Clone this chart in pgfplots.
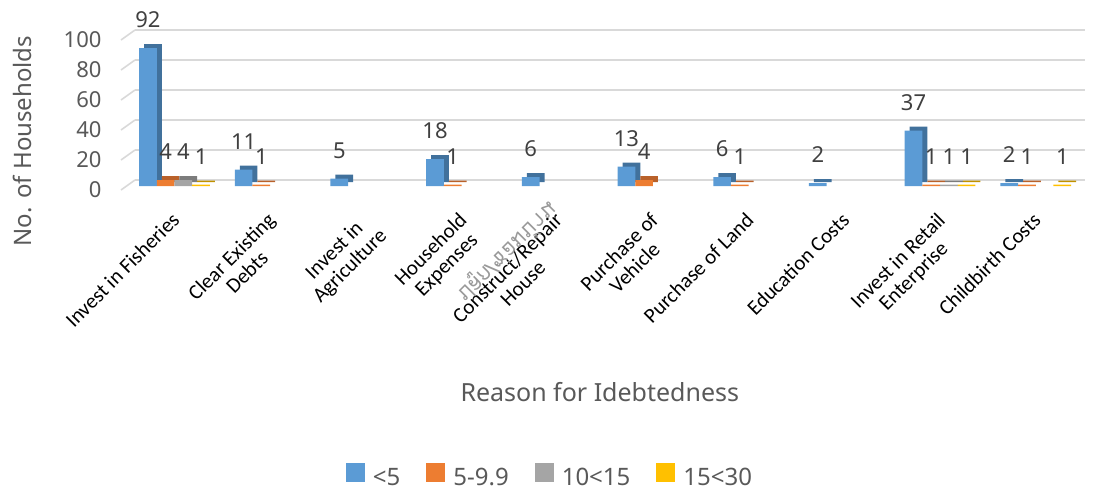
\documentclass[border=0pt]{standalone}
\usepackage{pgfplots}
\usepackage{pgfplotstable}
\pgfplotsset{compat=1.18}
\usepackage{fontspec}
\setmainfont{Noto Sans}
\newfontfamily\catfont{Carlito}
\newfontfamily\thaifont[Script=Thai]{Loma}
\definecolor{cA}{HTML}{5B9BD5}
\definecolor{cAd}{HTML}{41719C}
\definecolor{cB}{HTML}{ED7D31}
\definecolor{cBd}{HTML}{B9612A}
\definecolor{cC}{HTML}{A5A5A5}
\definecolor{cCd}{HTML}{7C7C7C}
\definecolor{cD}{HTML}{FFC000}
\definecolor{cDd}{HTML}{C09100}
\definecolor{gridcol}{HTML}{D9D9D9}
\definecolor{txt}{HTML}{595959}
\definecolor{lab}{HTML}{404040}

% <5
\pgfplotstableread{
x y
0 92
1 11
2 5
3 18
4 6
5 13
6 6
7 2
8 37
9 2
}\seriesA
% 5-9.9
\pgfplotstableread{
x y
0 4
1 1
3 1
5 4
6 1
8 1
9 1
}\seriesB
% 10<15
\pgfplotstableread{
x y
0 4
8 1
}\seriesC
% 15<30
\pgfplotstableread{
x y
0 1
8 1
9 1
}\seriesD

\begin{document}
\begin{tikzpicture}
\begin{axis}[
  scale only axis,
  width=950pt, height=150pt,
  xmin=-0.559, xmax=9.368,
  ymin=0, ymax=100,
  ytick={0,20,...,100},
  xtick={0,...,9},
  xticklabels={{Invest in Fisheries},{Clear Existing\\Debts},{Invest in\\Agriculture},{Household\\Expenses},{Construct/Repair\\House},{Purchase of\\Vehicle},{Purchase of Land},{Education Costs},{Invest in Retail\\Enterprise},{Childbirth Costs}},
  xticklabel style={xshift=-4pt, yshift=-25pt, rotate=45, anchor=north east, inner sep=0pt, align=center, font=\catfont\fontsize{21}{22}\selectfont, text=black},
  yticklabel style={font=\fontsize{22}{24}\selectfont, text=txt, xshift=-16pt, yshift=-4pt},
  /pgf/number format/assume math mode=true,
  axis line style={draw=none},
  major tick length=0pt,
  ymajorgrids,
  major grid style={draw=gridcol, line width=1.6pt, xshift=14pt, yshift=6pt},
  ylabel={No. of Households},
  ylabel style={at={(axis description cs:-0.1042,0.3)}, anchor=center, font=\fontsize{24}{26}\selectfont, text=txt},
  xlabel={Reason for Idebtedness},
  xlabel style={at={(axis description cs:0.504,-1.373)}, anchor=center, font=\fontsize{25}{27}\selectfont, text=txt},
  legend columns=4,
  legend style={at={(axis description cs:0.4516,-1.933)}, anchor=center, draw=none, fill=none,
    font=\fontsize{24}{26}\selectfont, text=txt,
    /tikz/every odd column/.append style={column sep=6pt},
    /tikz/every even column/.append style={column sep=24pt}},
  legend image code/.code={\fill[#1, draw=none] (0pt,-4pt) rectangle (19pt,15pt);},
  clip=false,
]
\pgfplotsinvokeforeach{0,20,40,60,80,100}{
  \draw[gridcol, line width=1.6pt] (axis cs:-0.559,#1) ++(0pt,-4pt) -- ++(14pt,10pt);
}
% side/top faces (depth)
\addplot[ybar, bar width=17.7pt, bar shift=-21.55pt, yshift=4pt, fill=cAd, draw=none, forget plot] table[x=x,y=y] {\seriesA};
\addplot[ybar, bar width=17.7pt, bar shift=-3.85pt, yshift=4pt, fill=cBd, draw=none, forget plot] table[x=x,y=y] {\seriesB};
\addplot[ybar, bar width=17.7pt, bar shift=13.85pt, yshift=4pt, fill=cCd, draw=none, forget plot] table[x=x,y=y] {\seriesC};
\addplot[ybar, bar width=17.7pt, bar shift=31.55pt, yshift=4pt, fill=cDd, draw=none, forget plot] table[x=x,y=y] {\seriesD};
% front faces
\pgfplotsset{lbl/.style={nodes near coords, every node near coord/.append style={anchor=center, xshift=#1, yshift=28pt, font=\fontsize{22}{24}\selectfont, text=lab}}}
\addplot[ybar, bar width=17.7pt, bar shift=-26.55pt, fill=cA, draw=none, lbl=-26.55pt] table[x=x,y=y] {\seriesA};
\addplot[ybar, bar width=17.7pt, bar shift=-8.85pt, fill=cB, draw=none, lbl=-8.85pt] table[x=x,y=y] {\seriesB};
\addplot[ybar, bar width=17.7pt, bar shift=8.85pt, fill=cC, draw=none, lbl=8.85pt] table[x=x,y=y] {\seriesC};
\addplot[ybar, bar width=17.7pt, bar shift=26.55pt, fill=cD, draw=none, lbl=26.55pt] table[x=x,y=y] {\seriesD};
\legend{{<5},{5-9.9},{10<15},{15<30}}
\end{axis}
\node[rotate=45, yscale=-1, text=gray!80, font=\thaifont\fontsize{22}{24}\selectfont] at (386pt,-66pt) {ปลูก/ซ่อมบ้าน};
\pgfresetboundingbox
\path (-121pt,-307pt) rectangle (976pt,186pt);
\end{tikzpicture}
\end{document}
